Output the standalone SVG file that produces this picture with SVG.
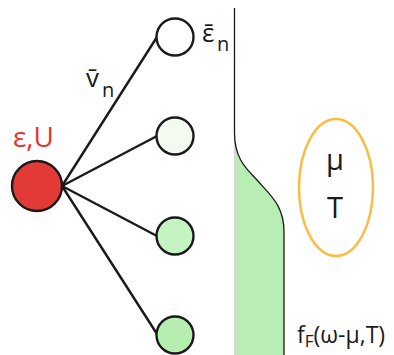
<svg xmlns="http://www.w3.org/2000/svg" width="394" height="355" viewBox="0 0 394 355">
<style>
.node{stroke:#1a1a1a;stroke-width:2.4}
.edge{stroke:#1a1a1a;stroke-width:2.4;fill:none}
text{font-family:"Open Sans","DejaVu Sans",sans-serif;fill:#1a1a1a}
</style>
<rect width="394" height="355" fill="#ffffff"/>
<g id="connectors">
<line class="edge" x1="62" y1="186" x2="157" y2="37"/>
<line class="edge" x1="62" y1="186" x2="157" y2="136"/>
<line class="edge" x1="62" y1="186" x2="157" y2="236"/>
<line class="edge" x1="62" y1="186" x2="157" y2="334"/>
</g>
<g id="impurity">
<circle class="node" cx="37" cy="186" r="25" fill="#e23a36"/>
<text x="13" y="147" font-size="28" style="fill:#e03432">ε,U</text>
</g>
<g id="bath1">
<circle class="node" cx="175" cy="37" r="18.5" fill="#ffffff"/>
</g>
<g id="bath2">
<circle class="node" cx="175" cy="136" r="18.5" fill="#f3fbf1"/>
</g>
<g id="bath3">
<circle class="node" cx="175" cy="236" r="18.5" fill="#c6f3c4"/>
</g>
<g id="bath4">
<circle class="node" cx="175" cy="335" r="18.5" fill="#b6edb1"/>
</g>
<g id="labels">
<text x="86" y="87" font-size="26">v̄<tspan x="102" y="97" font-size="20">n</tspan></text>
<text x="202" y="42" font-size="26">ε̄<tspan x="217" y="51" font-size="20">n</tspan></text>
</g>
<g id="fermi">
<path d="M234,133 C234,160 248,170 257,180 C270,195 284,205 284,232 L284,355 L234,355 Z" fill="#b8edb4"/>
<line x1="234.5" y1="133" x2="234.5" y2="355" stroke="#d8d8d8" stroke-width="1"/>
<path d="M234.5,8 L234.5,133 C234.5,160 248,170 257,180 C270,195 284,205 284,232 L284,355" fill="none" stroke="#1a1a1a" stroke-width="1.3"/>
<text x="297" y="343" font-size="23">f<tspan font-size="17" dy="4">F</tspan><tspan dy="-4">(ω-μ,T)</tspan></text>
</g>
<g id="reservoir">
<ellipse cx="336" cy="187.5" rx="37" ry="68.5" fill="none" stroke="#fbbb45" stroke-width="2.5"/>
<text x="335" y="170" font-size="29" text-anchor="middle">μ</text>
<text x="335" y="218" font-size="29" text-anchor="middle">T</text>
</g>
</svg>
